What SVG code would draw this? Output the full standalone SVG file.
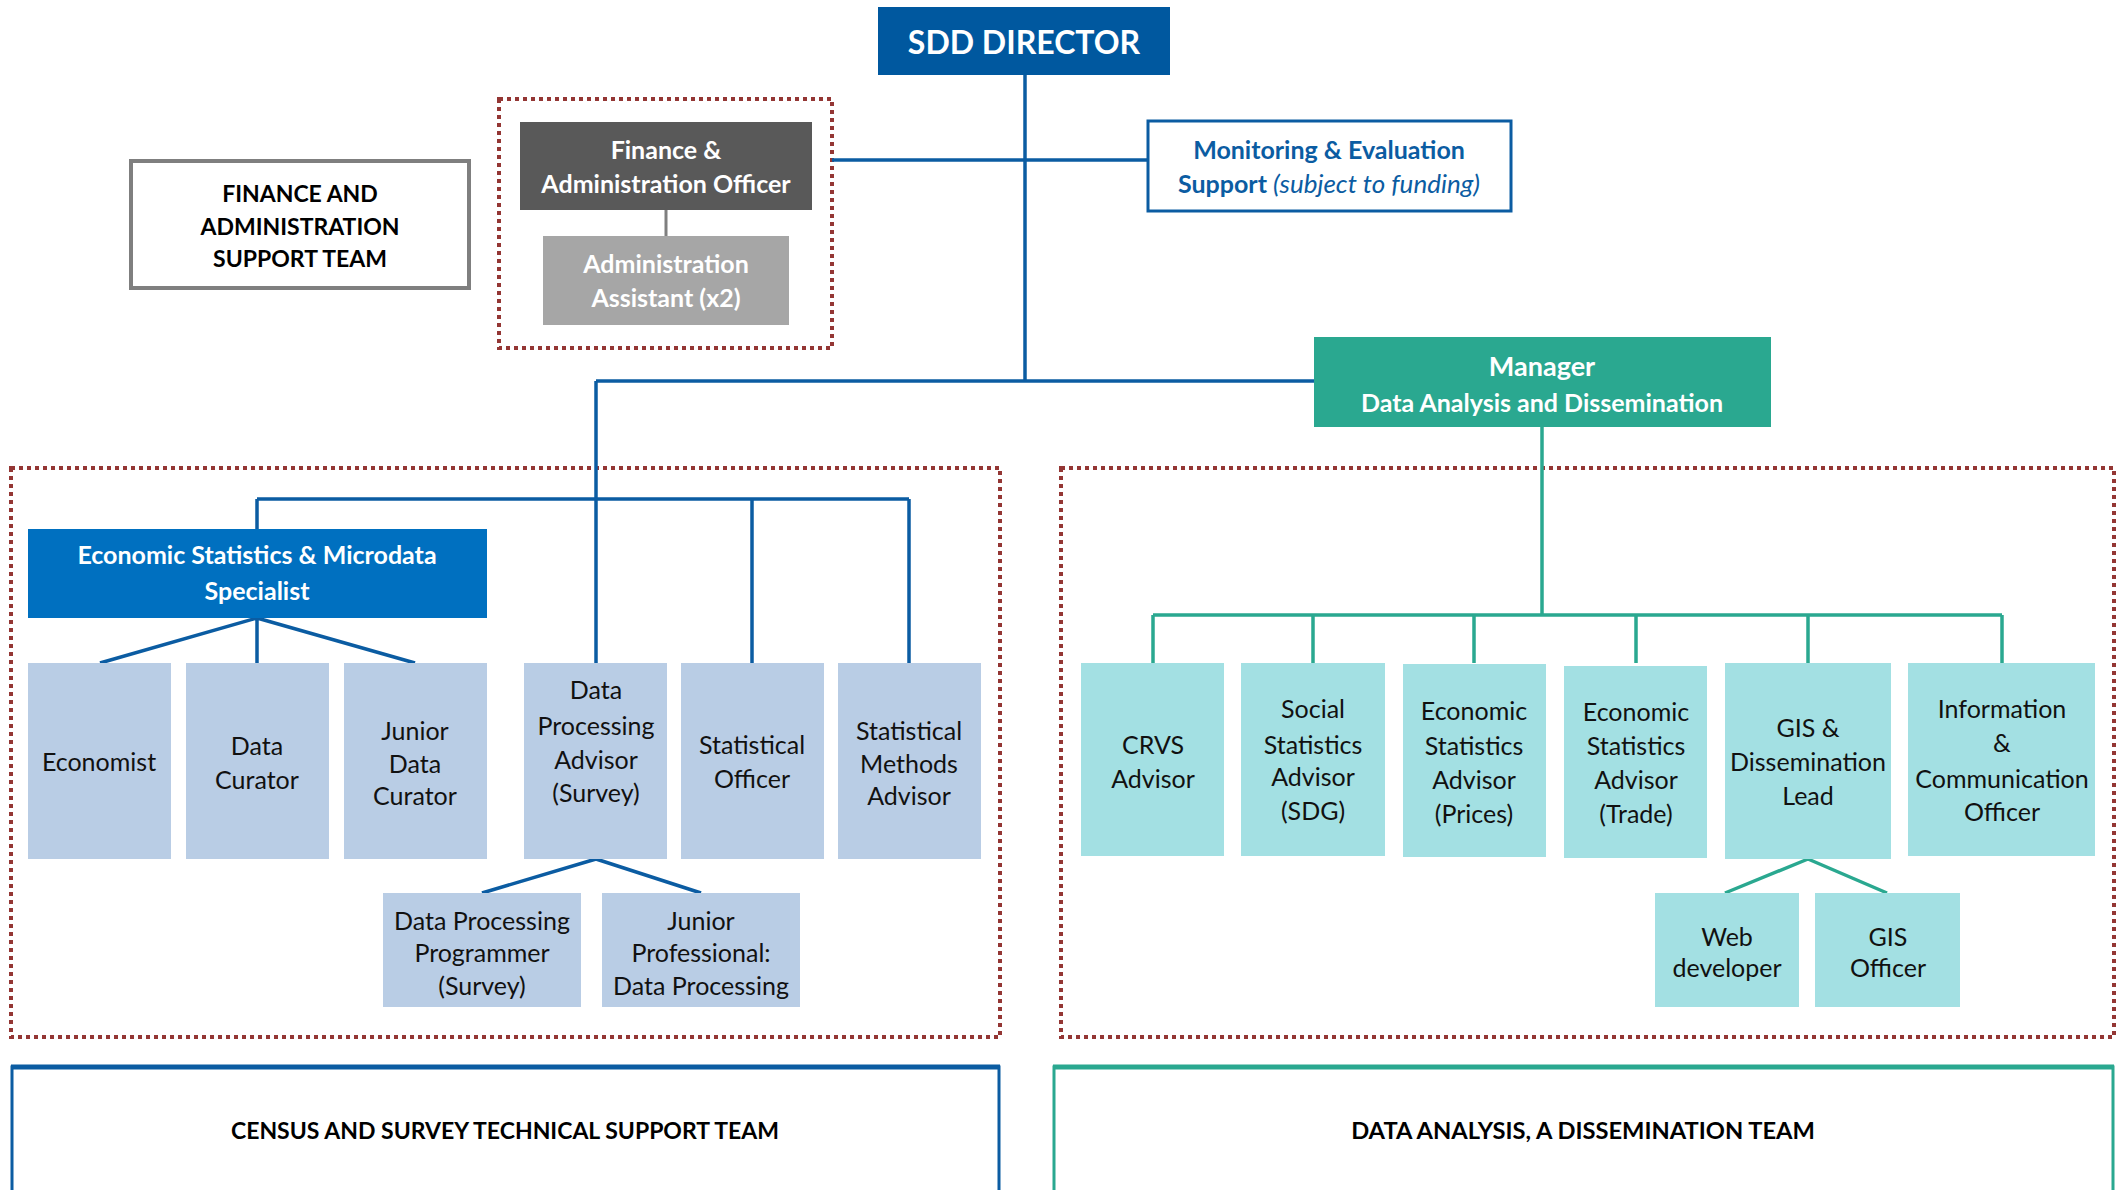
<svg xmlns="http://www.w3.org/2000/svg" width="2125" height="1190" viewBox="0 0 2125 1190">
<style>
text{font-family:Lato,"Open Sans","Liberation Sans",sans-serif;text-anchor:middle}
.b{font-weight:bold}
.w{fill:#ffffff}
.k{fill:#000000}
.r{font-size:25px;fill:#111111}
.h{font-size:25px;font-weight:bold}
.t{font-size:23px;font-weight:bold}
.dot{fill:none;stroke:#943634;stroke-width:4;stroke-dasharray:4 4}
.lb{fill:#B9CDE5}
.lt{fill:#A3E0E3}
.cb{fill:none;stroke:#0B5CA2;stroke-width:3.5}
.ct{fill:none;stroke:#2AA890;stroke-width:3.5}
</style>
<rect width="2125" height="1190" fill="#ffffff"/>

<g id="containers">
<rect class="dot" x="499" y="99" width="333" height="249"/>
<rect class="dot" x="11" y="468" width="989" height="569"/>
<rect class="dot" x="1061" y="468" width="1053" height="569"/>
</g>

<g id="connectors">
<path class="cb" d="M1025 75 V381"/>
<path class="cb" d="M832 160 H1148"/>
<path class="cb" d="M596 381 H1314"/>
<path class="cb" d="M596 381 V663"/>
<path class="cb" d="M257 499 H909 M257 499 V529 M752 499 V663 M909 499 V663"/>
<path class="cb" d="M257 618 L100 663 M257 618 V663 M257 618 L415 663"/>
<path class="cb" d="M596 859 L482 893 M596 859 L701 893"/>
<path fill="none" stroke="#7F7F7F" stroke-width="3" d="M666 210 V236"/>
<path class="ct" d="M1542 427 V615 M1153 615 H2002 M1153 615 V663 M1313 615 V663 M1474 615 V663 M1636 615 V663 M1808 615 V663 M2002 615 V663"/>
<path class="ct" d="M1808 859 L1725 893 M1808 859 L1887 893"/>
</g>

<g id="director">
<rect x="878" y="7" width="292" height="68" fill="#00589F"/>
<text class="b w" x="1024" y="54" style="font-size:32px">SDD DIRECTOR</text>
</g>

<g id="me-support">
<rect x="1148" y="121" width="363" height="90" fill="#ffffff" stroke="#0B5CA2" stroke-width="3"/>
<text class="h" x="1329" y="159" fill="#0B5CA2">Monitoring &amp; Evaluation</text>
<text class="h" x="1329" y="193" fill="#0B5CA2">Support <tspan font-weight="normal" font-style="italic" font-size="26">(subject to funding)</tspan></text>
</g>

<g id="fa-team-label">
<rect x="131" y="161" width="338" height="127" fill="#ffffff" stroke="#7F7F7F" stroke-width="4"/>
<text class="t k" x="300" y="202">FINANCE AND</text>
<text class="t k" x="300" y="235">ADMINISTRATION</text>
<text class="t k" x="300" y="267">SUPPORT TEAM</text>
</g>

<g id="fa-officer">
<rect x="520" y="122" width="292" height="88" fill="#595959"/>
<text class="h w" x="666" y="159">Finance &amp;</text>
<text class="h w" x="666" y="193">Administration Officer</text>
</g>

<g id="admin-assistant">
<rect x="543" y="236" width="246" height="89" fill="#A6A6A6"/>
<text class="h w" x="666" y="273">Administration</text>
<text class="h w" x="666" y="307">Assistant (x2)</text>
</g>

<g id="manager">
<rect x="1314" y="337" width="457" height="90" fill="#2AA890"/>
<text class="b w" x="1542" y="376" style="font-size:27px">Manager</text>
<text class="h w" x="1542" y="412">Data Analysis and Dissemination</text>
</g>

<g id="esm-specialist">
<rect x="28" y="529" width="459" height="89" fill="#0070C0"/>
<text class="h w" x="257" y="564">Economic Statistics &amp; Microdata</text>
<text class="h w" x="257" y="600">Specialist</text>
</g>

<g id="economist">
<rect class="lb" x="28" y="663" width="143" height="196"/>
<text class="r" x="99" y="771">Economist</text>
</g>
<g id="data-curator">
<rect class="lb" x="186" y="663" width="143" height="196"/>
<text class="r" x="257" y="755">Data</text>
<text class="r" x="257" y="789">Curator</text>
</g>
<g id="junior-data-curator">
<rect class="lb" x="344" y="663" width="143" height="196"/>
<text class="r" x="415" y="740">Junior</text>
<text class="r" x="415" y="773">Data</text>
<text class="r" x="415" y="805">Curator</text>
</g>
<g id="dp-advisor">
<rect class="lb" x="524" y="663" width="143" height="196"/>
<text class="r" x="596" y="699">Data</text>
<text class="r" x="596" y="735">Processing</text>
<text class="r" x="596" y="769">Advisor</text>
<text class="r" x="596" y="802">(Survey)</text>
</g>
<g id="statistical-officer">
<rect class="lb" x="681" y="663" width="143" height="196"/>
<text class="r" x="752" y="754">Statistical</text>
<text class="r" x="752" y="788">Officer</text>
</g>
<g id="stat-methods-advisor">
<rect class="lb" x="838" y="663" width="143" height="196"/>
<text class="r" x="909" y="740">Statistical</text>
<text class="r" x="909" y="773">Methods</text>
<text class="r" x="909" y="805">Advisor</text>
</g>
<g id="dp-programmer">
<rect class="lb" x="383" y="893" width="198" height="114"/>
<text class="r" x="482" y="930">Data Processing</text>
<text class="r" x="482" y="962">Programmer</text>
<text class="r" x="482" y="995">(Survey)</text>
</g>
<g id="junior-professional">
<rect class="lb" x="602" y="893" width="198" height="114"/>
<text class="r" x="701" y="930">Junior</text>
<text class="r" x="701" y="962">Professional:</text>
<text class="r" x="701" y="995">Data Processing</text>
</g>

<g id="crvs-advisor">
<rect class="lt" x="1081" y="663" width="143" height="193"/>
<text class="r" x="1153" y="754">CRVS</text>
<text class="r" x="1153" y="788">Advisor</text>
</g>
<g id="social-stats-advisor">
<rect class="lt" x="1241" y="663" width="144" height="193"/>
<text class="r" x="1313" y="718">Social</text>
<text class="r" x="1313" y="754">Statistics</text>
<text class="r" x="1313" y="786">Advisor</text>
<text class="r" x="1313" y="820">(SDG)</text>
</g>
<g id="econ-prices-advisor">
<rect class="lt" x="1403" y="664" width="143" height="193"/>
<text class="r" x="1474" y="720">Economic</text>
<text class="r" x="1474" y="755">Statistics</text>
<text class="r" x="1474" y="789">Advisor</text>
<text class="r" x="1474" y="823">(Prices)</text>
</g>
<g id="econ-trade-advisor">
<rect class="lt" x="1564" y="666" width="143" height="192"/>
<text class="r" x="1636" y="721">Economic</text>
<text class="r" x="1636" y="755">Statistics</text>
<text class="r" x="1636" y="789">Advisor</text>
<text class="r" x="1636" y="823">(Trade)</text>
</g>
<g id="gis-lead">
<rect class="lt" x="1725" y="663" width="166" height="196"/>
<text class="r" x="1808" y="737">GIS &amp;</text>
<text class="r" x="1808" y="771">Dissemination</text>
<text class="r" x="1808" y="805">Lead</text>
</g>
<g id="info-comm-officer">
<rect class="lt" x="1908" y="663" width="187" height="193"/>
<text class="r" x="2002" y="718">Information</text>
<text class="r" x="2002" y="752">&amp;</text>
<text class="r" x="2002" y="788">Communication</text>
<text class="r" x="2002" y="821">Officer</text>
</g>
<g id="web-developer">
<rect class="lt" x="1655" y="893" width="144" height="114"/>
<text class="r" x="1727" y="946">Web</text>
<text class="r" x="1727" y="977">developer</text>
</g>
<g id="gis-officer">
<rect class="lt" x="1815" y="893" width="145" height="114"/>
<text class="r" x="1888" y="946">GIS</text>
<text class="r" x="1888" y="977">Officer</text>
</g>

<g id="census-team-label">
<path d="M12 1200 V1067 H999 V1200" fill="none" stroke="#0B5CA2" stroke-width="3"/>
<path d="M11 1067 H1000" stroke="#0B5CA2" stroke-width="5"/>
<text class="t k" x="505" y="1139">CENSUS AND SURVEY TECHNICAL SUPPORT TEAM</text>
</g>
<g id="data-team-label">
<path d="M1054 1200 V1067 H2113 V1200" fill="none" stroke="#2AA890" stroke-width="3"/>
<path d="M1053 1067 H2114" stroke="#2AA890" stroke-width="5"/>
<text class="k" x="1583" y="1139" style="font-size:23.7px;font-weight:bold">DATA ANALYSIS, A DISSEMINATION TEAM</text>
</g>
</svg>
